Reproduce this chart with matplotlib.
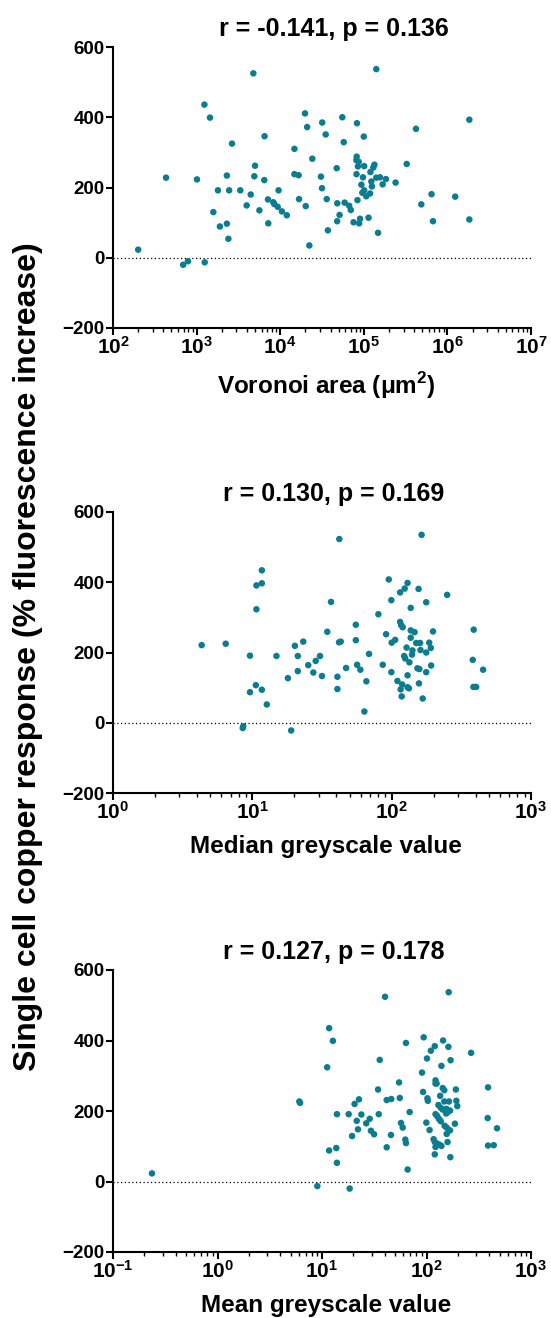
import matplotlib.pyplot as plt
from matplotlib.ticker import FixedLocator, LogLocator, NullFormatter

plt.rcParams['font.family'] = ['Liberation Sans', 'DejaVu Sans']
plt.rcParams['font.weight'] = 'bold'
plt.rcParams['mathtext.fontset'] = 'custom'
plt.rcParams['mathtext.rm'] = 'Liberation Sans:bold'
plt.rcParams['mathtext.bf'] = 'Liberation Sans:bold'

COR = '#0b7d90'

# ---- painel 1: area de Voronoi ----
voronoi_x = [200, 431, 690, 788, 1250, 1240, 1445, 1010, 1800, 1585, 1900, 2300, 2400,
             2450, 2300, 2650, 3330, 3970, 4440, 4770, 5000, 4900, 5640, 6450, 6500,
             7140, 7200, 8270, 8500, 9330, 9560, 10470, 12000, 14800, 14800, 16600,
             16800, 19800, 21000, 20200, 22300, 24200, 30700, 31800, 31600, 35000,
             36000, 37200, 55300, 47400, 48200, 51300, 48000, 57500, 59000, 66900,
             69900, 75400, 82800, 82200, 81500, 87000, 85000, 81800, 84000, 90200,
             88000, 93600, 97700, 96000, 100000, 101000, 101000, 107000, 114000,
             119000, 120000, 123000, 125000, 130000, 134000, 141000, 148000, 141000,
             156000, 168000, 184000, 240000, 326000, 421000, 487000, 646000, 672000,
             1240000, 1830000, 1830000]
voronoi_y = [23, 228, -20, -10, -13, 436, 399, 223, 192, 130, 89, 97, 54,
             192, 234, 325, 192, 149, 180, 525, 262, 232, 135, 221, 346,
             166, 98, 158, 153, 145, 192, 132, 121, 310, 238, 235,
             167, 411, 372, 147, 35, 282, 231, 385, 198, 351,
             167, 78, 400, 255, 155, 122, 104, 329, 157, 148,
             136, 101, 383, 288, 278, 273, 260, 238, 164, 111,
             98, 208, 229, 185, 345, 261, 192, 175, 114,
             183, 244, 217, 203, 257, 265, 537, 71, 228,
             229, 209, 224, 214, 267, 367, 152, 181, 104,
             174, 393, 109]

# ---- painel 2: mediana de cinza ----
mediana_x = [4.33, 6.44, 8.53, 8.6, 9.62, 9.62, 10.6, 10.7, 10.7, 11.7, 11.7, 11.7, 12.7,
             14.9, 18.0, 19.0, 20.2, 21.2, 21.2, 23.2, 25.2, 27.4, 28.5, 30.6, 31.6,
             34.5, 36.7, 40.8, 41.9, 43.1, 42.1, 40.8, 47.1, 55.3, 55.3, 56.5, 59.6,
             63.7, 65.8, 68.8, 80.3, 95.3, 86.3, 91.2, 99.5, 99.5, 100, 106, 110,
             115, 115, 117, 120, 116, 118, 119, 124, 130, 128, 123, 125, 130, 130,
             133, 134, 137, 137, 137, 141, 140, 146, 150, 153, 158, 156, 157, 161,
             160, 164, 167, 177, 177, 177, 186, 191, 192, 198, 250, 388, 382, 453,
             386, 404]
mediana_y = [221, 225, -15, -10, 191, 87, 107, 323, 391, 397, 434, 94, 52,
             190, 127, -22, 219, 190, 147, 231, 164, 143, 176, 190, 133,
             259, 344, 131, 229, 231, 523, 96, 156, 279, 235, 165, 151,
             32, 118, 196, 309, 408, 165, 252, 349, 144, 228, 236, 119,
             371, 287, 278, 272, 95, 75, 109, 382, 398, 214, 190, 183, 135, 101,
             98, 172, 327, 263, 242, 206, 194, 258, 227, 155, 153, 381, 112, 207,
             227, 535, 69, 343, 144, 200, 228, 213, 163, 260, 364, 265, 179, 151,
             102, 102]

# ---- painel 3: media de cinza ----
media_x = [0.236, 6.07, 6.17, 9.02, 11.7, 12.7, 11.2, 11.7, 13.7, 13.9, 13.9, 18.0, 18.4,
           19.4, 20.5, 22.6, 21.5, 22.1, 23.8, 26.5, 28.6, 29.4, 31.5, 34.4, 35.7,
           34.9, 40.1, 41.6, 46.0, 45.7, 41.6, 54.6, 55.5, 57.0, 59.2, 63.6, 62.7,
           63.6, 66, 69, 94, 90.6, 101, 92.7, 102, 103, 99.6, 107, 110, 120, 144,
           162, 139, 170, 122, 122, 125, 143, 148, 135, 191, 148, 164, 193, 197,
           130, 137, 143, 155, 168, 158, 154, 122, 127, 132, 137, 187, 149, 156,
           168, 156, 117, 120, 125, 132, 139, 122, 159, 120, 169, 163, 267, 388,
           385, 473, 388, 440]
media_y = [23, 227, 223, -13, 435, 399, 324, 88, 95, 53, 191, 191, -20,
           129, 220, 233, 172, 148, 190, 165, 178, 144, 134, 261, 345,
           191, 524, 231, 234, 132, 97, 281, 237, 166, 153, 393, 119,
           109, 34, 197, 409, 309, 349, 254, 236, 229, 167, 146, 371, 384, 400,
           382, 328, 344, 287, 278, 278, 265, 259, 243, 261, 227, 227, 229, 214,
           217, 209, 204, 206, 201, 196, 193, 191, 185, 177, 171, 164, 158, 153,
           145, 135, 120, 112, 108, 105, 101, 98, 112, 77, 69, 537, 365, 267,
           180, 151, 102, 103]

paineis = [
    dict(x=voronoi_x, y=voronoi_y, xlim=(1e2, 1e7), dec=range(2, 8),
         titulo="r = -0.141, p = 0.136", xlabel=r"Voronoi area (μm$^{2}$)", top=47, bot=328),
    dict(x=mediana_x, y=mediana_y, xlim=(1e0, 1e3), dec=range(0, 4),
         titulo="r = 0.130, p = 0.169", xlabel="Median greyscale value", top=512, bot=793),
    dict(x=media_x, y=media_y, xlim=(1e-1, 1e3), dec=range(-1, 4),
         titulo="r = 0.127, p = 0.178", xlabel="Mean greyscale value", top=970, bot=1252),
]

W, H = 551, 1318
fig = plt.figure(figsize=(W / 100, H / 100), dpi=100)

for p in paineis:
    ax = fig.add_axes([113 / W, 1 - p["bot"] / H, (531 - 113) / W, (p["bot"] - p["top"]) / H])
    ax.scatter(p["x"], p["y"], s=22, color=COR, edgecolors='none', zorder=3, clip_on=False)
    ax.set_xscale('log')
    ax.set_xlim(*p["xlim"])
    ax.set_ylim(-200, 600)
    ax.axhline(0, color='black', lw=0.9, ls=(0, (1, 2)), zorder=1)

    ax.set_yticks([-200, 0, 200, 400, 600])
    ax.xaxis.set_major_locator(FixedLocator([10.0 ** d for d in p["dec"]]))
    ax.set_xticklabels([r"$\mathbf{10^{%d}}$" % d for d in p["dec"]])
    ax.xaxis.set_minor_locator(LogLocator(base=10, subs=range(2, 10), numticks=20))
    ax.xaxis.set_minor_formatter(NullFormatter())

    for lado in ['top', 'right']:
        ax.spines[lado].set_visible(False)
    for lado in ['left', 'bottom']:
        ax.spines[lado].set_linewidth(1.5)
    ax.tick_params(axis='both', which='major', width=1.5, length=5, labelsize=13.5, pad=1)
    ax.tick_params(axis='x', which='major', labelsize=15)
    ax.tick_params(axis='x', which='minor', width=1.0, length=3)
    for t in ax.get_yticklabels():
        t.set_fontweight('bold')

    ax.set_title(p["titulo"], fontsize=18, fontweight='bold', pad=8, x=0.528)
    ax.set_xlabel(p["xlabel"], fontsize=17.5, fontweight='bold', labelpad=6)
    ax.xaxis.set_label_coords(0.51, -0.15)

fig.text(28 / W, 1 - 657 / H, "Single cell copper response (% fluorescence increase)",
         rotation=90, ha='center', va='center', fontsize=23, fontweight='bold')

fig.savefig("out.png", dpi=100)
